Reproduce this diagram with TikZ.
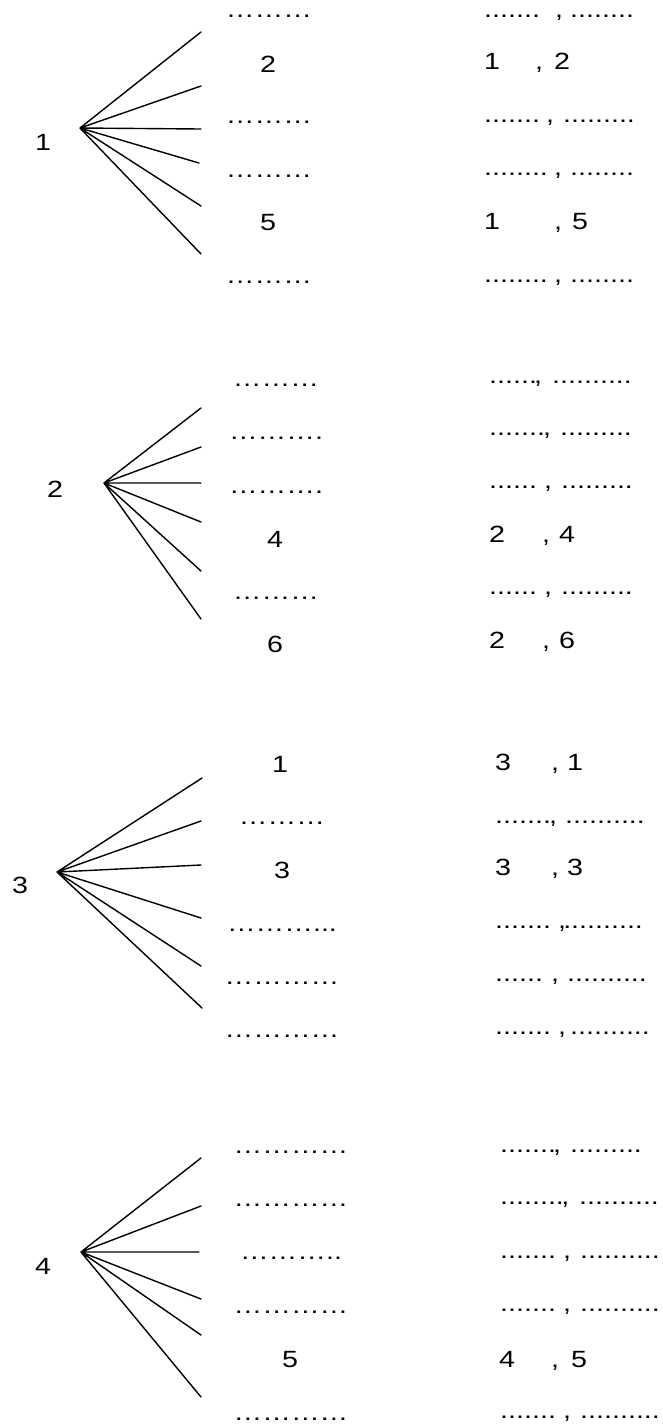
\documentclass[tikz,border=0pt]{standalone}
\usepackage{fontspec}
\setmainfont{Liberation Sans}[FakeStretch=1.22]
\newcommand\pairtxt[4]{\rlap{#1}\rlap{\kern#2pt,}\kern#3pt#4}
\begin{document}
\begin{tikzpicture}[x=1pt,y=-1pt,
  every node/.style={font=\fontsize{23.5}{27}\selectfont, inner sep=0pt},
  mid/.style={anchor=base},
  root/.style={anchor=base},
  pr/.style={anchor=base west},
  fan/.style={line width=1.4pt, line cap=round}]
\useasboundingbox (0,0) rectangle (662,1428);

% ---------- Section 1 ----------
\node[root] (n1) at (43,150) {1};
\coordinate (o1) at (80,128);
\coordinate (e1a) at (201,32);
\coordinate (e1b) at (201,86);
\coordinate (e1c) at (201,129);
\coordinate (e1d) at (199,163);
\coordinate (e1e) at (201,206);
\coordinate (e1f) at (201,254);
\draw[fan] (o1) -- (e1a) (o1) -- (e1b) (o1) -- (e1c) (o1) -- (e1d) (o1) -- (e1e) (o1) -- (e1f);
\node[mid] (m1a) at (269,17) {………};
\node[mid] (m1b) at (268,72) {2};
\node[mid] (m1c) at (269,123) {………};
\node[mid] (m1d) at (269,177) {………};
\node[mid] (m1e) at (268,230) {5};
\node[mid] (m1f) at (269,283) {………};
\node[pr] (p1a) at (484,17) {\pairtxt{.......}{71}{86}{........}};
\node[pr] (p1b) at (484,69) {\pairtxt{1}{51}{70}{2}};
\node[pr] (p1c) at (484,122) {\pairtxt{.......}{62}{79}{.........}};
\node[pr] (p1d) at (484,175) {\pairtxt{........}{70}{86}{........}};
\node[pr] (p1e) at (484,229) {\pairtxt{1}{70}{88}{5}};
\node[pr] (p1f) at (484,282) {\pairtxt{........}{70}{86}{........}};

% ---------- Section 2 ----------
\node[root] (n2) at (55,497) {2};
\coordinate (o2) at (104,483);
\coordinate (e2a) at (201,408);
\coordinate (e2b) at (201,447);
\coordinate (e2c) at (201,483);
\coordinate (e2d) at (201,522);
\coordinate (e2e) at (201,571);
\coordinate (e2f) at (201,619);
\draw[fan] (o2) -- (e2a) (o2) -- (e2b) (o2) -- (e2c) (o2) -- (e2d) (o2) -- (e2e) (o2) -- (e2f);
\node[mid] (m2a) at (276,386) {………};
\node[mid] (m2b) at (276,439) {……….};
\node[mid] (m2c) at (276,493) {……….};
\node[mid] (m2d) at (275,547) {4};
\node[mid] (m2e) at (276,599) {………};
\node[mid] (m2f) at (275,652) {6};
\node[pr] (p2a) at (489,383) {\pairtxt{......}{45}{63}{..........}};
\node[pr] (p2b) at (489,435) {\pairtxt{.......}{54}{71}{.........}};
\node[pr] (p2c) at (489,488) {\pairtxt{......}{55}{72}{.........}};
\node[pr] (p2d) at (489,542) {\pairtxt{2}{53}{70}{4}};
\node[pr] (p2e) at (489,594) {\pairtxt{......}{55}{72}{.........}};
\node[pr] (p2f) at (489,648) {\pairtxt{2}{53}{70}{6}};

% ---------- Section 3 ----------
\node[root] (n3) at (20,893) {3};
\coordinate (o3) at (57,872);
\coordinate (e3a) at (202,778);
\coordinate (e3b) at (201,821);
\coordinate (e3c) at (201,865);
\coordinate (e3d) at (201,918);
\coordinate (e3e) at (201,966);
\coordinate (e3f) at (202,1008);
\draw[fan] (o3) -- (e3a) (o3) -- (e3b) (o3) -- (e3c) (o3) -- (e3d) (o3) -- (e3e) (o3) -- (e3f);
\node[mid] (m3a) at (280,772) {1};
\node[mid] (m3b) at (282,824) {………};
\node[mid] (m3c) at (282,878) {3};
\node[mid] (m3d) at (282,931) {………...};
\node[mid] (m3e) at (282,984) {…………};
\node[mid] (m3f) at (282,1037) {…………};
\node[pr] (p3a) at (495,770) {\pairtxt{3}{56}{72}{1}};
\node[pr] (p3b) at (495,823) {\pairtxt{.......}{54}{70}{..........}};
\node[pr] (p3c) at (495,875) {\pairtxt{3}{56}{72}{3}};
\node[pr] (p3d) at (495,928) {\pairtxt{.......}{63}{68}{..........}};
\node[pr] (p3e) at (495,981) {\pairtxt{......}{56}{72}{..........}};
\node[pr] (p3f) at (495,1034) {\pairtxt{.......}{63}{75}{..........}};

% ---------- Section 4 ----------
\node[root] (n4) at (43,1274) {4};
\coordinate (o4) at (81,1252);
\coordinate (e4a) at (201,1158);
\coordinate (e4b) at (201,1206);
\coordinate (e4c) at (199,1252);
\coordinate (e4d) at (201,1299);
\coordinate (e4e) at (201,1335);
\coordinate (e4f) at (201,1397);
\draw[fan] (o4) -- (e4a) (o4) -- (e4b) (o4) -- (e4c) (o4) -- (e4d) (o4) -- (e4e) (o4) -- (e4f);
\node[mid] (m4a) at (291,1153) {…………};
\node[mid] (m4b) at (291,1206) {…………};
\node[mid] (m4c) at (291,1259) {………..};
\node[mid] (m4d) at (291,1313) {…………};
\node[mid] (m4e) at (290,1367) {5};
\node[mid] (m4f) at (291,1420) {…………};
\node[pr] (p4a) at (500,1152) {\pairtxt{.......}{53}{70}{.........}};
\node[pr] (p4b) at (500,1204) {\pairtxt{........}{61}{79}{..........}};
\node[pr] (p4c) at (500,1258) {\pairtxt{.......}{63}{80}{..........}};
\node[pr] (p4d) at (500,1311) {\pairtxt{.......}{63}{80}{..........}};
\node[pr] (p4e) at (499,1367) {\pairtxt{4}{52}{72}{5}};
\node[pr] (p4f) at (500,1418) {\pairtxt{.......}{63}{80}{..........}};
\end{tikzpicture}
\end{document}
